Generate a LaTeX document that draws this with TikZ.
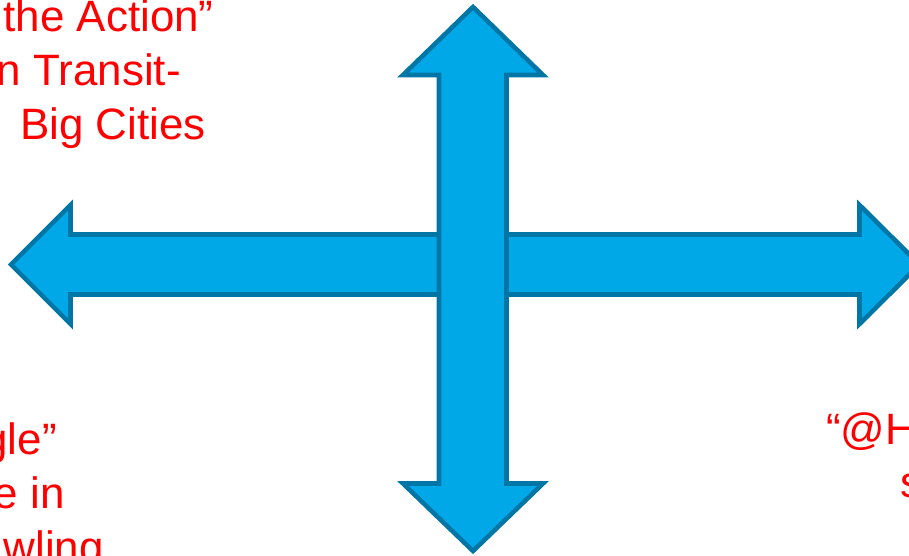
\documentclass[tikz,border=0pt]{standalone}
\usepackage{fontspec}
\setmainfont{Liberation Sans}
\usepackage{xcolor}
\usepackage{tikz}

\definecolor{arrowfill}{RGB}{0,168,232}
\definecolor{arrowline}{RGB}{0,118,166}

\begin{document}
\begin{tikzpicture}[
  x=0.02cm, y=-0.02cm,
  %--- style definitions ---
  bigarrow/.style = {fill=arrowfill, draw=arrowline, line width=2.6pt,
                     line join=miter},
  quadtext/.style = {text=red, font=\fontsize{25}{30}\selectfont,
                     inner sep=0pt},
]

%% ── FRAME ──────────────────────────────────────────────────────────────────
\useasboundingbox (0,0) rectangle (909,555);
\clip (0,0) rectangle (909,555);

%% ── HORIZONTAL AXIS ────────────────────────────────────────────────────────
\draw[bigarrow] (11,264.5) -- (70.5,205) -- (70.5,234.5) -- (859.5,234.5)
  -- (859.5,205) -- (919.5,264.5) -- (859.5,324) -- (859.5,294.5)
  -- (70.5,294.5) -- (70.5,324) -- cycle;

%% ── VERTICAL AXIS ──────────────────────────────────────────────────────────
\draw[bigarrow] (473,7) -- (543,75) -- (506.5,75) -- (506.5,483.5)
  -- (543,483.5) -- (473,551) -- (403,483.5) -- (439,483.5)
  -- (439,75) -- (403,75) -- cycle;

%% ── TOP LEFT ───────────────────────────────────────────────────────────────
\node[quadtext, anchor=base east] (tl1) at (214,31)    {the Action”};
\node[quadtext, anchor=base east] (tl2) at (181,85)    {n Transit-};
\node[quadtext, anchor=base east] (tl3) at (206,139)   {Big Cities};

%% ── BOTTOM LEFT ────────────────────────────────────────────────────────────
\node[quadtext, anchor=base east] (bl1) at (57,454.5)  {gle”};
\node[quadtext, anchor=base east] (bl2) at (65,508.5)  {e in};
\node[quadtext, anchor=base east] (bl3) at (104,562.5) {wling};

%% ── BOTTOM RIGHT ───────────────────────────────────────────────────────────
\node[quadtext, anchor=base west] (br1) at (826,444)   {“@H};
\node[quadtext, anchor=base west] (br2) at (900,497)   {s};

\end{tikzpicture}
\end{document}
